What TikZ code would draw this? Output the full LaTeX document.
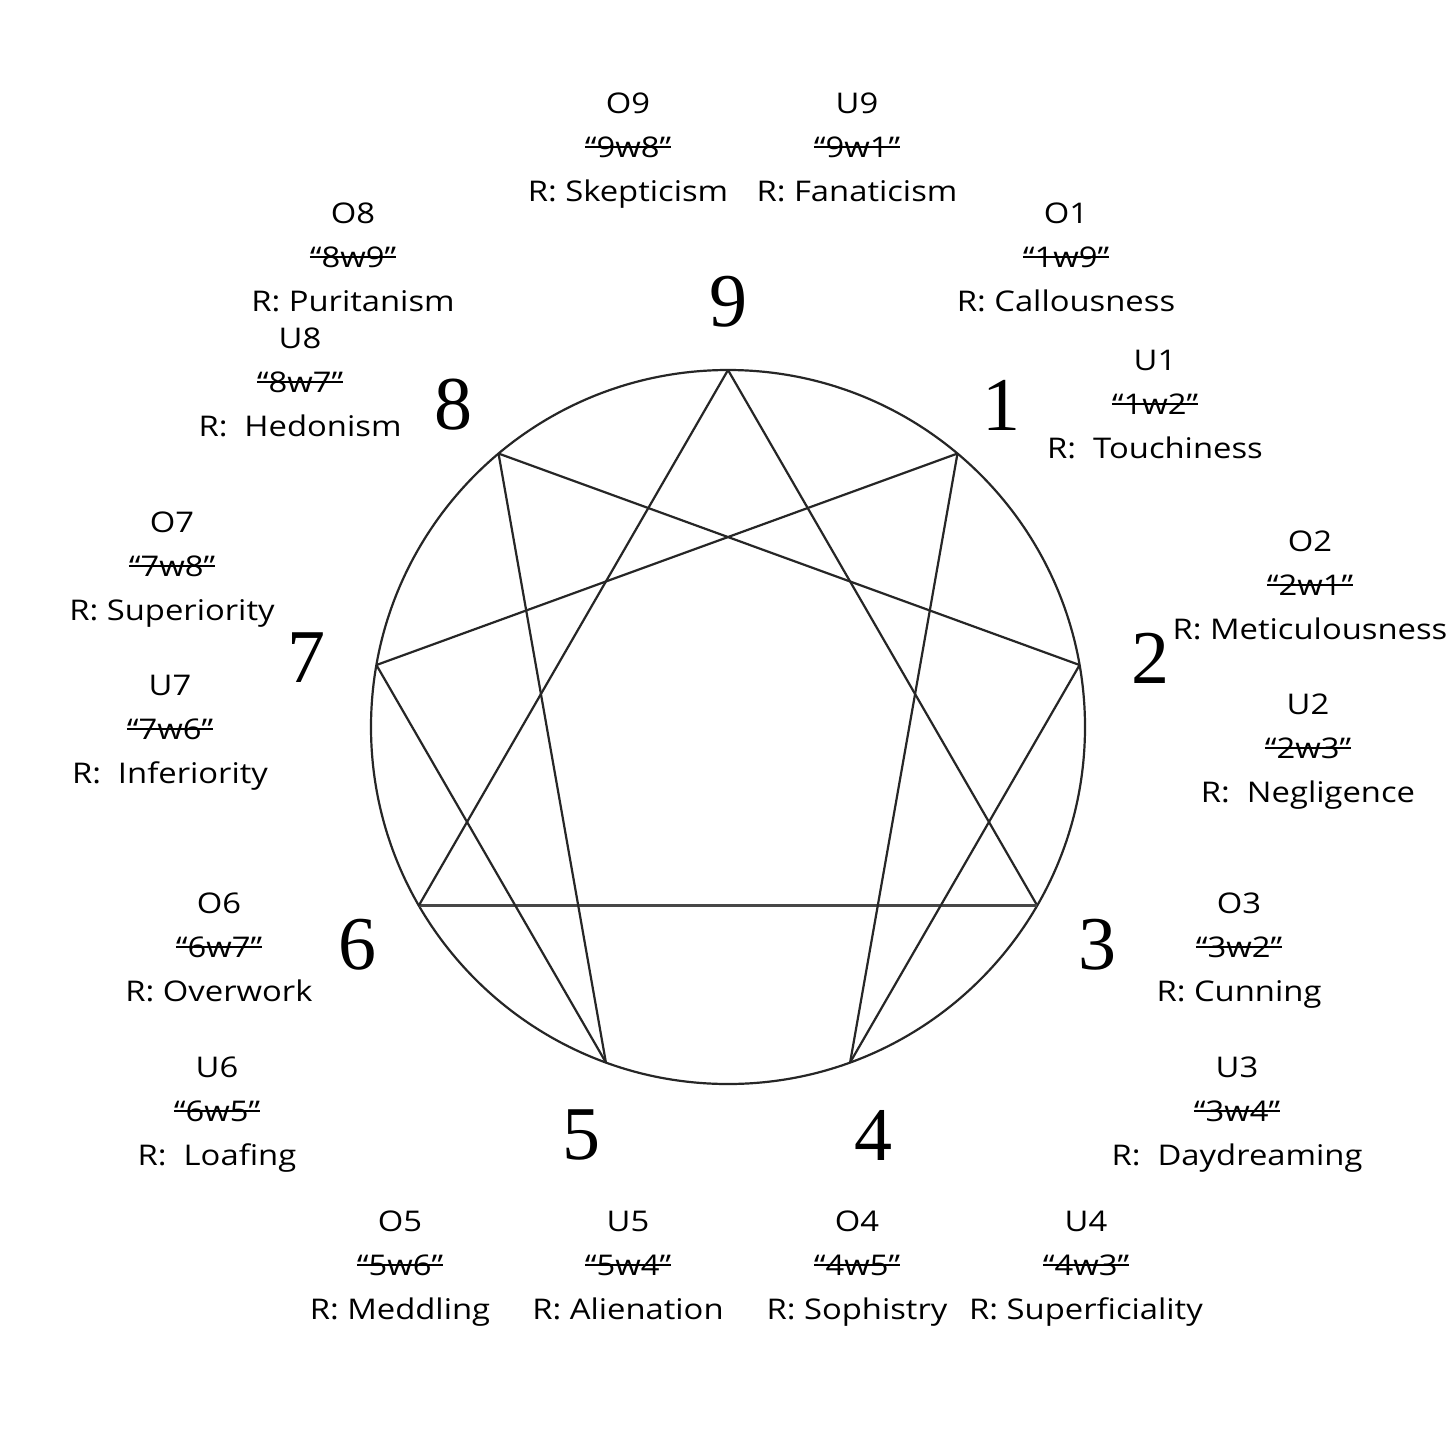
\documentclass[tikz,border=0pt]{standalone}
\usepackage{fontspec}
\setmainfont{Open Sans}[FakeStretch=1.15]
\newfontfamily\digitfont{Liberation Serif}
\usetikzlibrary{calc}
\newcommand\blk[6]{%
  \node[lbl, anchor=base] (#1a) at (#2,#3) {#4};
  \node[lbl, anchor=base] (#1b) at (#2,#3+44) {#5};
  \node[lbl, anchor=base] (#1c) at (#2,#3+88) {#6};
  \draw[strike] ([yshift=10pt]#1b.base west) -- ([yshift=10pt]#1b.base east);
}
\begin{document}
\begin{tikzpicture}[x=1pt,y=-1pt,
  lbl/.style={inner sep=0pt, font=\fontsize{28.5}{44}\selectfont, text=black},
  strike/.style={draw=black, line width=1.8pt},
  dig/.style={inner sep=0pt, font=\digitfont\fontsize{76}{76}\selectfont, text=black},
  edge/.style={draw=black!85, line width=2.2pt}]
\useasboundingbox[fill=white] (0,0) rectangle (1456,1456);
\coordinate (c) at (728,727);
\foreach \k in {0,...,8} {
  \coordinate (p\k) at ($(c)+({40*\k-90}:357)$);
}
\draw[edge] (c) circle (357);
% triangle 9-3-6
\draw[edge] (p0) -- (p3);
\draw[edge, line width=2.8pt, draw=black!72] (p3) -- (p6);
\draw[edge] (p6) -- (p0);
% hexad 1-4-2-8-5-7-1
\draw[edge] (p1) -- (p4);
\draw[edge] (p4) -- (p2);
\draw[edge] (p2) -- (p8);
\draw[edge] (p8) -- (p5);
\draw[edge] (p5) -- (p7);
\draw[edge] (p7) -- (p1);
% digits
\node[dig] (d9) at (728,302) {9};
\node[dig] (d1) at (1001,405) {1};
\node[dig] (d2) at (1150,658) {2};
\node[dig] (d3) at (1097,945) {3};
\node[dig] (d4) at (873,1135) {4};
\node[dig] (d5) at (581,1135) {5};
\node[dig] (d6) at (357,945) {6};
\node[dig] (d7) at (306,658) {7};
\node[dig] (d8) at (453,405) {8};
% labels
\blk{O9}{628}{113}{O9}{“9w8”}{R: Skepticism}
\blk{U9}{857}{113}{U9}{“9w1”}{R: Fanaticism}
\blk{O8}{353}{223}{O8}{“8w9”}{R: Puritanism}
\blk{O1}{1066}{223}{O1}{“1w9”}{R: Callousness}
\blk{U8}{300}{348}{U8}{“8w7”}{R:\ \ Hedonism}
\blk{U1}{1155}{370}{U1}{“1w2”}{R:\ \ Touchiness}
\blk{O7}{172}{532}{O7}{“7w8”}{R: Superiority}
\blk{O2}{1310}{551}{O2}{“2w1”}{R: Meticulousness}
\blk{U7}{170}{695}{U7}{“7w6”}{R:\ \ Inferiority}
\blk{U2}{1308}{714}{U2}{“2w3”}{R:\ \ Negligence}
\blk{O6}{219}{913}{O6}{“6w7”}{R: Overwork}
\blk{O3}{1239}{913}{O3}{“3w2”}{R: Cunning}
\blk{U6}{217}{1077}{U6}{“6w5”}{R:\ \ Loafing}
\blk{U3}{1237}{1077}{U3}{“3w4”}{R:\ \ Daydreaming}
\blk{O5}{400}{1231}{O5}{“5w6”}{R: Meddling}
\blk{U5}{628}{1231}{U5}{“5w4”}{R: Alienation}
\blk{O4}{857}{1231}{O4}{“4w5”}{R: Sophistry}
\blk{U4}{1086}{1231}{U4}{“4w3”}{R: Superficiality}
\end{tikzpicture}
\end{document}
